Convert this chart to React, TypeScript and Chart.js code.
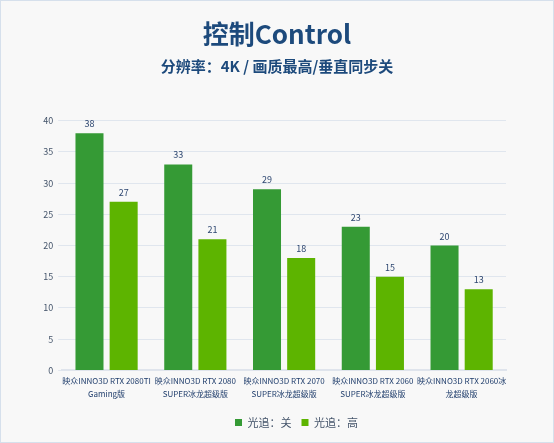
import React, { useEffect, useRef } from "react";
import { Chart, registerables } from "chart.js";

Chart.register(...registerables);

const categories: string[][] = [
  ["映众INNO3D RTX 2080TI", "Gaming版"],
  ["映众INNO3D RTX 2080", "SUPER冰龙超级版"],
  ["映众INNO3D RTX 2070", "SUPER冰龙超级版"],
  ["映众INNO3D RTX 2060", "SUPER冰龙超级版"],
  ["映众INNO3D RTX 2060冰", "龙超级版"],
];
const seriesNames = ["光追：关", "光追：高"];
const rtOff = [38, 33, 29, 23, 20];
const rtHigh = [27, 21, 18, 15, 13];
const yTicks = [0, 5, 10, 15, 20, 25, 30, 35, 40];

const FONT = "'Noto Sans CJK SC', 'Noto Sans', sans-serif";

const valueLabels = {
  id: "valueLabels",
  afterDatasetsDraw(chart: any) {
    const ctx = chart.ctx;
    ctx.save();
    ctx.font = `9px ${FONT}`;
    ctx.fillStyle = "#2d4670";
    ctx.textAlign = "center";
    ctx.textBaseline = "alphabetic";
    chart.data.datasets.forEach((ds: any, i: number) => {
      const meta = chart.getDatasetMeta(i);
      meta.data.forEach((el: any, j: number) => {
        ctx.fillText(String(ds.data[j]), el.x, el.y - 6);
      });
    });
    ctx.restore();
  },
};

// Re-centre the legend and the titles to where the reference places them.
const boxShift = {
  id: "boxShift",
  afterLayout(chart: any) {
    const center = (b: any, target: number) => {
      const d = target - (b.left + b.right) / 2;
      b.left += d;
      b.right += d;
      if (b.legendHitBoxes) b.legendHitBoxes.forEach((h: any) => (h.left += d));
    };
    chart.boxes.forEach((b: any) => {
      if (b === chart.legend) center(b, 295.5);
      else if (b.position === "top" && b.options && b.options.text !== undefined) center(b, 276);
    });
  },
};

export default function App() {
  const ref = useRef<HTMLCanvasElement>(null);
  useEffect(() => {
    document.body.style.margin = "0";
    const chart = new Chart(ref.current!, {
      type: "bar",
      data: {
        labels: categories,
        datasets: [
          {
            label: seriesNames[0],
            data: rtOff,
            backgroundColor: "#359a35",
            barPercentage: 0.82,
            categoryPercentage: 0.77,
          },
          {
            label: seriesNames[1],
            data: rtHigh,
            backgroundColor: "#5db400",
            barPercentage: 0.82,
            categoryPercentage: 0.77,
          },
        ],
      },
      options: {
        animation: false,
        responsive: false,
        maintainAspectRatio: false,
        layout: { padding: { left: 37.2, right: 47, top: 0, bottom: 4 } },
        plugins: {
          title: {
            display: true,
            text: "控制Control",
            color: "#1d4a7c",
            font: { family: FONT, size: 26, weight: "bold" },
            padding: { top: 17.5, bottom: 8 },
          },
          subtitle: {
            display: true,
            text: "分辨率：4K / 画质最高/垂直同步关",
            color: "#1d4a7c",
            font: { family: FONT, size: 15, weight: "bold" },
            padding: { top: 0, bottom: 45 },
          },
          legend: {
            position: "bottom",
            labels: {
              boxWidth: 7,
              boxHeight: 7,
              color: "#44546a",
              font: { family: FONT, size: 11 },
              padding: 10,
            },
          },
          tooltip: { enabled: false },
        },
        scales: {
          x: {
            grid: { display: false, drawTicks: false },
            border: { color: "#dfe4ec", width: 2 },
            afterFit: (axis: any) => {
              axis.height += 3;
            },
            ticks: {
              autoSkip: false,
              maxRotation: 0,
              minRotation: 0,
              color: "#23406e",
              font: { family: FONT, size: 8, lineHeight: 1.6 },
              padding: 4,
            },
          },
          y: {
            min: 0,
            max: 40,
            afterBuildTicks: (axis: any) => {
              axis.ticks = yTicks.map((v) => ({ value: v }));
            },
            grid: { color: "#e0e6ee", tickLength: 4 },
            border: { display: false },
            ticks: {
              color: "#44546a",
              font: { family: FONT, size: 9 },
              padding: 5,
            },
          },
        },
      },
      plugins: [valueLabels, boxShift],
    });
    return () => chart.destroy();
  }, []);
  return (
    <div
      style={{
        width: 554,
        height: 443,
        boxSizing: "border-box",
        border: "1px solid #d6e0ec",
        background: "#f8f8f8",
      }}
    >
      <canvas ref={ref} width={552} height={441} style={{ display: "block" }} />
    </div>
  );
}
